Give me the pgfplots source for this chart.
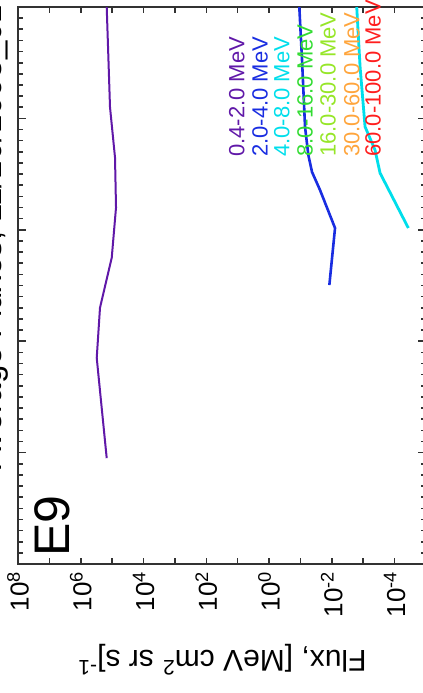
\documentclass[border=0pt]{standalone}
\usepackage{pgfplots}
\pgfplotsset{compat=1.18}
\usepackage{fontspec}
\setmainfont{Liberation Sans}

\definecolor{chA}{RGB}{96,24,168}
\definecolor{chB}{RGB}{25,45,225}
\definecolor{chC}{RGB}{0,222,235}
\definecolor{chD}{RGB}{50,220,50}
\definecolor{chE}{RGB}{150,230,40}
\definecolor{chF}{RGB}{255,165,60}
\definecolor{chG}{RGB}{255,30,30}
\definecolor{frame}{RGB}{50,50,50}

\begin{document}
\begin{tikzpicture}
\useasboundingbox (0,0) rectangle (211.5pt,346.5pt);
\clip (0,0) rectangle (211.5pt,346.5pt);
\begin{axis}[
  at={(9pt,64.5pt)}, anchor=south west,
  scale only axis, width=204pt, height=278.5pt,
  xmode=log, xmin=1e-5, xmax=1e8, x dir=reverse,
  ymin=0, ymax=5,
  xtick={1e-4,1e-2,1,1e2,1e4,1e6,1e8},
  xticklabels={10\textsuperscript{-4},10\textsuperscript{-2},10\textsuperscript{0},10\textsuperscript{2},10\textsuperscript{4},10\textsuperscript{6},10\textsuperscript{8}},
  minor xtick={1e-5,1e-3,1e-1,1e1,1e3,1e5,1e7},
  ytick={0,1,2,3,4,5}, yticklabels={},
  minor y tick num=9,
  tick align=inside,
  major tick length=4pt, minor tick length=2.5pt,
  every major x tick/.append style={/pgfplots/major tick length=3pt},
  every minor x tick/.append style={/pgfplots/minor tick length=3pt},
  axis line style={frame, line width=0.8pt},
  every tick/.style={frame, line width=0.8pt},
  xticklabel style={rotate=90, anchor=east, font=\fontsize{13}{15}\selectfont},
  xlabel={Flux, [MeV cm\textsuperscript{2} sr s]\textsuperscript{-1}},
  xlabel style={at={(axis description cs:0.5,-0.1544)}, anchor=base, rotate=180,
    font=\fontsize{15}{18}\selectfont},
]
% 0.4-2.0 MeV
\addplot[chA, line width=1pt] coordinates {
  (1.49e5,5.00) (1.32e5,4.55) (1.17e5,4.10) (8.11e4,3.65) (7.53e4,3.20)
  (1.03e5,2.75) (2.44e5,2.30) (3.10e5,1.85) (2.15e5,1.40) (1.49e5,0.95)
};
% 2.0-4.0 MeV
\addplot[chB, line width=1.3pt] coordinates {
  (0.1087,5.0) (0.0891,4.524) (0.0714,3.923) (0.0561,3.671) (0.0428,3.519)
  (0.0238,3.357) (0.00791,3.016) (0.0120,2.504)
};
% 4.0-8.0 MeV
\addplot[chC, line width=1.4pt] coordinates {
  (1.61e-3,5.0) (1.26e-3,4.464) (8.75e-4,3.926) (4.20e-4,3.716) (2.91e-4,3.510)
  (3.65e-5,3.016)
};
\end{axis}

% channel labels
\begin{scope}[every node/.style={rotate=90, anchor=west, inner sep=0pt,
    font=\fontsize{11}{13}\selectfont}]
\node[text=chA] at (118.35pt,268pt) {0.4-2.0 MeV};
\node[text=chB] at (130pt,268pt) {2.0-4.0 MeV};
\node[text=chC] at (140.85pt,268pt) {4.0-8.0 MeV};
\node[text=chD] at (152.5pt,268pt) {8.0-16.0 MeV};
\node[text=chE] at (164pt,268pt) {16.0-30.0 MeV};
\node[text=chF] at (175.85pt,268pt) {30.0-60.0 MeV};
\node[text=chG] at (186.5pt,268pt) {60.0-100.0 MeV};
\end{scope}

% panel tag and title
\node[rotate=90, anchor=base west, inner sep=0pt, font=\fontsize{25}{30}\selectfont]
  at (35pt,68pt) {E9};
\node[rotate=90, anchor=base west, inner sep=0pt, font=\fontsize{16.5}{20}\selectfont]
  at (1pt,111.5pt) {Average Fluxes, 11/10/1998\_01};
\end{tikzpicture}
\end{document}
